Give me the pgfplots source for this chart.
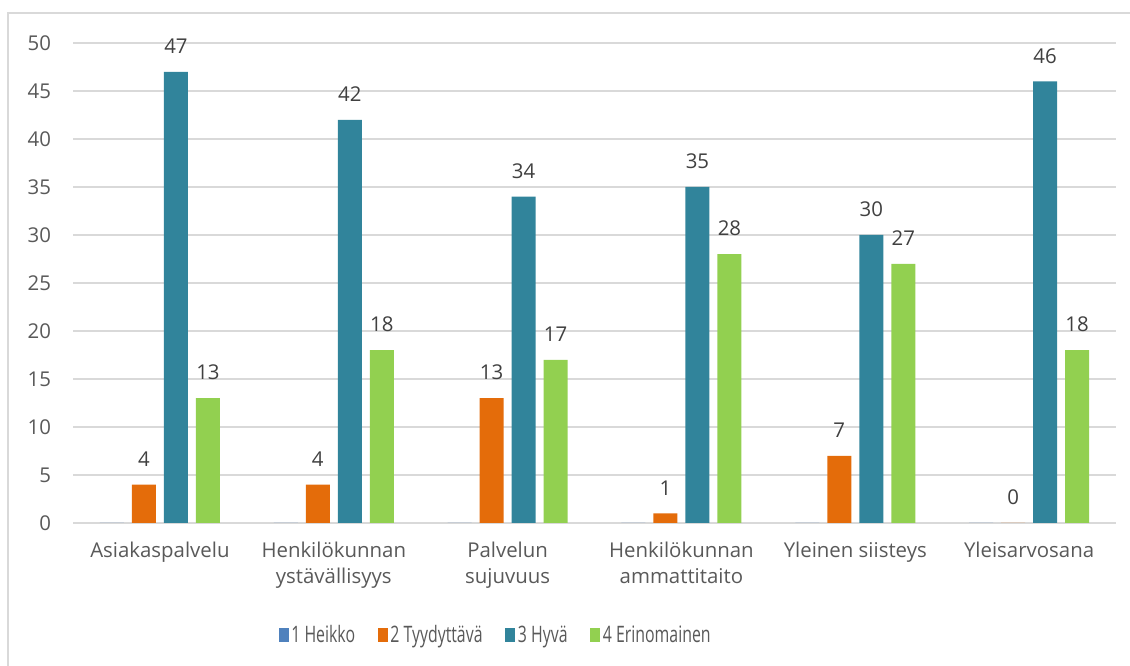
\documentclass[border=0pt]{standalone}
\usepackage{pgfplots}
\pgfplotsset{compat=1.18}
\usepackage{fontspec}
\setmainfont{Open Sans}
\newfontfamily\legendfont[FakeStretch=0.7]{Open Sans}

\definecolor{sHeikko}{HTML}{4F81BD}
\definecolor{sTyyd}{HTML}{E46C0A}
\definecolor{sHyva}{HTML}{31849B}
\definecolor{sErin}{HTML}{92D050}
\definecolor{txtgray}{HTML}{595959}
\definecolor{lblgray}{HTML}{404040}
\definecolor{linegray}{HTML}{D9D9D9}

\newcommand{\chartfont}{\fontsize{15.3}{19}\selectfont}

\begin{document}
\begin{tikzpicture}[x=0.75pt,y=0.75pt]
\useasboundingbox (0,0) rectangle (1130,666);
% chart frame
\draw[linegray, line width=1pt] (8,0) -- (8,653) -- (1130,653);
\begin{axis}[
  at={(73*0.75pt,143*0.75pt)}, anchor=south west,
  scale only axis,
  width=782.25pt, height=360pt,
  ybar=6pt, bar width=18pt,
  xmin=-0.5, xmax=5.5,
  ymin=0, ymax=50,
  ytick={0,5,...,50},
  xtick={0,1,2,3,4,5},
  xticklabels={Asiakaspalvelu,{Henkilökunnan\\ystävällisyys},{Palvelun\\sujuvuus},{Henkilökunnan\\ammattitaito},Yleinen siisteys,Yleisarvosana},
  xticklabel style={align=center, text=txtgray, font=\chartfont, yshift=-11pt},
  yticklabel style={text=txtgray, font=\chartfont, xshift=-13pt},
  /pgf/number format/assume math mode=true,
  major tick length=0pt,
  axis line style={draw=none},
  xmajorgrids=false,
  ymajorgrids=true,
  y grid style={draw=linegray, line width=1.1pt},
  every node near coord/.append style={text=lblgray, font=\chartfont, yshift=10pt},
  legend style={at={(0.4056,-0.233)}, anchor=center, legend columns=4, draw=none,
    font=\legendfont\fontsize{17}{20}\selectfont, text=txtgray,
    /tikz/every even column/.append style={column sep=15pt}},
  legend image code/.code={\fill[#1] (0pt,-5.25pt) rectangle (7.5pt,5.25pt);},
]
\addplot[fill=sHeikko, draw=none] coordinates {(0,0) (1,0) (2,0) (3,0) (4,0) (5,0)};
\addlegendentry{1 Heikko}
\addplot[fill=sTyyd, draw=none, nodes near coords] coordinates {(0,4) (1,4) (2,13) (3,1) (4,7) (5,0)};
\addlegendentry{2 Tyydyttävä}
\addplot[fill=sHyva, draw=none, nodes near coords] coordinates {(0,47) (1,42) (2,34) (3,35) (4,30) (5,46)};
\addlegendentry{3 Hyvä}
\addplot[fill=sErin, draw=none, nodes near coords] coordinates {(0,13) (1,18) (2,17) (3,28) (4,27) (5,18)};
\addlegendentry{4 Erinomainen}
\end{axis}
\end{tikzpicture}
\end{document}
